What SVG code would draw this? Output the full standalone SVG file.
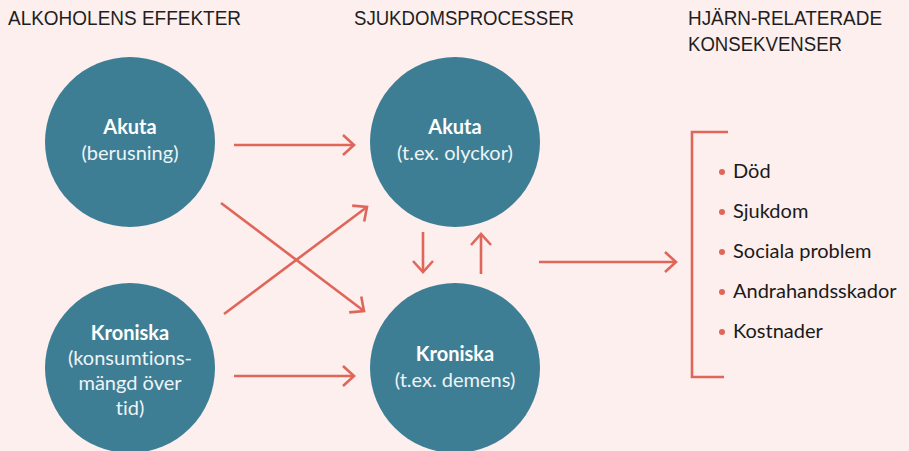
<svg xmlns="http://www.w3.org/2000/svg" width="909" height="451" viewBox="0 0 909 451">
<defs>
<style>
.bg{fill:#fcefee}
.hdr{font-family:"Liberation Sans",Arial,sans-serif;font-size:20px;fill:#1e1e1e}
.node{fill:#3e7e95}
.t1{font-family:Lato,"Noto Sans",sans-serif;font-size:20px;font-weight:bold;fill:#ffffff;text-anchor:middle;font-variant-ligatures:none}
.t2{font-family:Lato,"Noto Sans",sans-serif;font-size:20px;fill:#eef4f6;text-anchor:middle;font-variant-ligatures:none}
.conn{stroke:#e0665a;stroke-width:2.6;fill:none;marker-end:url(#arr)}
.br{stroke:#e0665a;stroke-width:2.6;fill:none}
.li{font-family:Lato,"Noto Sans",sans-serif;font-size:20px;fill:#1a1a1a;font-variant-ligatures:none}
.dot{fill:#e0665a}
</style>
<marker id="arr" markerUnits="userSpaceOnUse" markerWidth="30" markerHeight="30" viewBox="-15 -15 30 30" refX="0" refY="0" orient="auto">
<path d="M-11,-10 L0,0 L-11,10" fill="none" stroke="#e0665a" stroke-width="2.6"/>
</marker>
</defs>
<rect class="bg" x="0" y="0" width="909" height="451"/>
<g id="headers">
<text class="hdr" x="8" y="25" textLength="233" lengthAdjust="spacingAndGlyphs">ALKOHOLENS EFFEKTER</text>
<text class="hdr" x="354" y="25" textLength="220" lengthAdjust="spacingAndGlyphs">SJUKDOMSPROCESSER</text>
<text class="hdr" x="688" y="25" textLength="194" lengthAdjust="spacingAndGlyphs">HJÄRN-RELATERADE</text>
<text class="hdr" x="688" y="51" textLength="154" lengthAdjust="spacingAndGlyphs">KONSEKVENSER</text>
</g>
<g id="connectors">
<line class="conn" x1="234" y1="145" x2="354" y2="145"/>
<line class="conn" x1="234" y1="376" x2="354" y2="376"/>
<line class="conn" x1="221" y1="203" x2="364" y2="311"/>
<line class="conn" x1="224" y1="314" x2="367" y2="207"/>
<line class="conn" x1="423" y1="232" x2="423" y2="272"/>
<line class="conn" x1="481" y1="274" x2="481" y2="234"/>
<line class="conn" x1="539" y1="262" x2="676" y2="262"/>
</g>
<g id="node-akuta-effekt">
<circle class="node" cx="130" cy="142" r="85"/>
<text class="t1" x="130" y="134">Akuta</text>
<text class="t2" x="130" y="160">(berusning)</text>
</g>
<g id="node-kroniska-effekt">
<circle class="node" cx="130" cy="368" r="85"/>
<text class="t1" x="130" y="340">Kroniska</text>
<text class="t2" x="130" y="365">(konsumtions-</text>
<text class="t2" x="130" y="390">mängd över</text>
<text class="t2" x="130" y="415">tid)</text>
</g>
<g id="node-akuta-process">
<circle class="node" cx="455" cy="142" r="85"/>
<text class="t1" x="455" y="134">Akuta</text>
<text class="t2" x="455" y="160">(t.ex. olyckor)</text>
</g>
<g id="node-kroniska-process">
<circle class="node" cx="455" cy="368" r="85"/>
<text class="t1" x="455" y="361">Kroniska</text>
<text class="t2" x="455" y="387">(t.ex. demens)</text>
</g>
<g id="node-konsekvenser">
<path class="br" d="M728,132 L692,132 L692,377 L724,377"/>
<circle class="dot" cx="722" cy="172" r="3"/>
<text class="li" x="733" y="178">Död</text>
<circle class="dot" cx="722" cy="212" r="3"/>
<text class="li" x="733" y="218">Sjukdom</text>
<circle class="dot" cx="722" cy="252" r="3"/>
<text class="li" x="733" y="258">Sociala problem</text>
<circle class="dot" cx="722" cy="292" r="3"/>
<text class="li" x="733" y="298">Andrahandsskador</text>
<circle class="dot" cx="722" cy="332" r="3"/>
<text class="li" x="733" y="338">Kostnader</text>
</g>
</svg>
